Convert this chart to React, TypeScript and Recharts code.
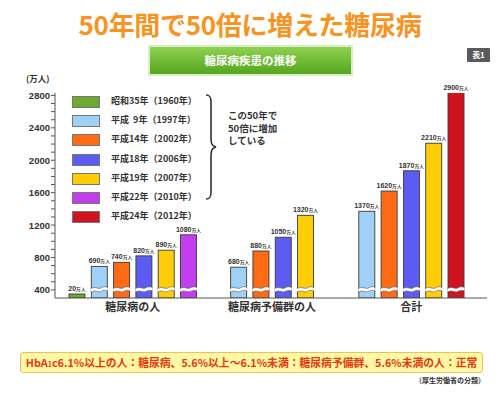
import React from 'react';
import { BarChart, Bar, XAxis, YAxis, Cell, LabelList } from 'recharts';

// ---- data ----
const categories = ['糖尿病の人', '糖尿病予備群の人', '合計'];
const years = [
  '昭和35年（1960年）',
  '平成  9年（1997年）',
  '平成14年（2002年）',
  '平成18年（2006年）',
  '平成19年（2007年）',
  '平成22年（2010年）',
  '平成24年（2012年）',
];
const diabetes = [20, 690, 740, 820, 890, 1080, null];
const prediabetes = [null, 680, 880, 1050, 1320, null, null];
const total = [null, 1370, 1620, 1870, 2210, null, 2900];
const yTickValues = [400, 500, 600, 700, 800, 900, 1000, 1100, 1200, 1300, 1400, 1500, 1600, 1700, 1800, 1900, 2000, 2100, 2200, 2300, 2400, 2500, 2600, 2700, 2800];
const yLabelTicks = [400, 800, 1200, 1600, 2000, 2400, 2800];
const braceNote = ['この50年で', '50倍に増加', 'している'];

const colors = ['#6cab2f', '#9fd0f6', '#ff6a14', '#5c5cf2', '#ffcd05', '#c23ff0', '#d0141f'];
const seriesByCategory = [diabetes, prediabetes, total];

// axis break: values below 400 are compressed into the bottom strip
const AXIS_MIN = 300;
const brk = (v: number) => (v >= 400 ? v : AXIS_MIN + (v * 100) / 400);

const SLOTS = 11;
const rows = categories.map((name, ci) => {
  const row: any = { name };
  const vals = seriesByCategory[ci];
  const present = vals.map((v, i) => (v == null ? -1 : i)).filter((i) => i >= 0);
  const start = (SLOTS - 1) / 2 - (present.length - 1);
  present.forEach((yi, k) => {
    const s = start + 2 * k;
    row[`v${s}`] = brk(vals[yi] as number);
    row[`r${s}`] = vals[yi];
    row[`c${s}`] = yi;
  });
  return row;
});

const JP = "'Noto Sans CJK JP', 'Noto Sans', sans-serif";
const LAT = "'Liberation Sans', Arial, sans-serif";
const PLOT_TOP = 93;

const BrokenBar = (props: any) => {
  const { x, y, width, height, fill } = props;
  if (fill == null || fill === 'none' || height == null || isNaN(height) || height <= 0) return null;
  const h = Math.max(height, 4);
  const top = y + height - h;
  const yb = y + height;
  const els: any[] = [
    <rect key="r" x={x} y={top} width={width} height={h} fill={fill} stroke="#3a3a3a" strokeWidth={0.9} />,
  ];
  if (h > 16) {
    const t = yb - 10.5;
    const b = yb - 7;
    const w = width;
    const topEdge = `M${x - 0.5},${t + 1} C${x + w * 0.25},${t - 1.5} ${x + w * 0.45},${t + 2} ${x + w * 0.6},${t + 0.5} S${x + w * 0.85},${t - 1.2} ${x + w + 0.5},${t}`;
    const botEdge = `M${x - 0.5},${b + 1} C${x + w * 0.25},${b - 1.5} ${x + w * 0.45},${b + 2} ${x + w * 0.6},${b + 0.5} S${x + w * 0.85},${b - 1.2} ${x + w + 0.5},${b}`;
    const band = `${topEdge} L${x + w + 0.5},${b} C${x + w * 0.85},${b - 1.2} ${x + w * 0.75},${b} ${x + w * 0.6},${b + 0.5} C${x + w * 0.45},${b + 2} ${x + w * 0.25},${b - 1.5} ${x - 0.5},${b + 1} Z`;
    els.push(<path key="b" d={band} fill="#ffffff" stroke="none" />);
    els.push(<path key="t" d={topEdge} fill="none" stroke="#555" strokeWidth={0.6} />);
    els.push(<path key="u" d={botEdge} fill="none" stroke="#555" strokeWidth={0.6} />);
  }
  return <g>{els}</g>;
};

const BarLabel = (p: any) => {
  const { x, y, width, height, value } = p;
  if (value == null || x == null) return null;
  let topY = height < 4 ? y + height - 4 : y;
  topY = Math.max(topY, PLOT_TOP);
  return (
    <text x={x + width / 2} y={topY - 3} textAnchor="middle" fill="#333" fontFamily={LAT} fontWeight="bold">
      <tspan fontSize={7}>{value}</tspan>
      <tspan fontSize={4.8} fontFamily={JP}>万人</tspan>
    </text>
  );
};

const YTick = (p: any) => {
  const { x, y, payload } = p;
  if (!yLabelTicks.includes(payload.value)) return null;
  return (
    <text x={x} y={y} dy={3.5} textAnchor="end" fontSize={9.5} fontFamily={LAT} fontWeight="bold" fill="#333">
      {payload.value}
    </text>
  );
};

export default function App() {
  const slots = Array.from({ length: SLOTS }, (_, i) => i);
  return (
    <div style={{ position: 'absolute', left: 0, top: 0, width: 500, height: 393, background: '#fff', overflow: 'hidden', fontFamily: JP }}>
      {/* title */}
      <div style={{ position: 'absolute', left: 0, top: 6, width: 500, textAlign: 'center', fontSize: 26, fontWeight: 'bold', color: '#f7931e', lineHeight: '36px', letterSpacing: -0.3 }}>
        50年間で50倍に増えた糖尿病
      </div>
      {/* header box */}
      <div style={{ position: 'absolute', left: 148, top: 45, width: 201, height: 27, border: '2px solid #d9edc4', background: 'linear-gradient(#8fd24f, #55a51f)', color: '#fff', fontWeight: 'bold', fontSize: 11.5, textAlign: 'center', lineHeight: '27px' }}>
        糖尿病疾患の推移
      </div>
      {/* badge */}
      <div style={{ position: 'absolute', left: 467, top: 48, width: 23, height: 14, background: '#5a5a5a', color: '#fff', fontSize: 8, fontWeight: 'bold', textAlign: 'center', lineHeight: '14px', borderRadius: 1 }}>
        表1
      </div>
      {/* unit */}
      <div style={{ position: 'absolute', left: 26, top: 72, fontSize: 8.5, fontWeight: 'bold', color: '#333', lineHeight: '12px' }}>(万人)</div>

      <BarChart
        width={500}
        height={393}
        data={rows}
        margin={{ top: PLOT_TOP, right: 13, bottom: 65, left: 0 }}
        barGap={-4.85}
        barSize={16}
        style={{ position: 'absolute', left: 0, top: 0 }}
      >
        <XAxis
          dataKey="name"
          tickLine={false}
          tickSize={0}
          tickMargin={5}
          padding={{ left: 8, right: 6 }}
          axisLine={{ stroke: '#555', strokeWidth: 1 }}
          tick={{ fontSize: 11, fill: '#333', fontFamily: JP, fontWeight: 'bold' }}
          interval={0}
        />
        <YAxis
          type="number"
          width={55}
          domain={[AXIS_MIN, 2830]}
          allowDataOverflow
          ticks={yTickValues}
          interval={0}
          tickSize={4}
          tickMargin={1}
          tickLine={{ stroke: '#555' }}
          axisLine={{ stroke: '#555', strokeWidth: 1 }}
          tick={<YTick />}
        />
        {slots.map((s) => (
          <Bar key={s} dataKey={`v${s}`} isAnimationActive={false} shape={<BrokenBar />}>
            {rows.map((r, i) => (
              <Cell key={i} fill={r[`c${s}`] != null ? colors[r[`c${s}`]] : 'none'} />
            ))}
            <LabelList dataKey={`r${s}`} content={<BarLabel />} />
          </Bar>
        ))}
      </BarChart>

      {/* legend */}
      <div style={{ position: 'absolute', left: 72, top: 96 }}>
        {years.map((y, i) => (
          <div key={i} style={{ position: 'absolute', left: 0, top: i * 19.2, width: 200, height: 12 }}>
            <div style={{ position: 'absolute', left: 0, top: 0, width: 26, height: 10, background: colors[i], border: '1px solid #777' }} />
            <div style={{ position: 'absolute', left: 39, top: -1, fontSize: 9, fontWeight: 'bold', color: '#333', whiteSpace: 'pre', lineHeight: '12px' }}>{y}</div>
          </div>
        ))}
      </div>
      {/* brace */}
      <svg style={{ position: 'absolute', left: 200, top: 90 }} width={24} height={115}>
        <path d="M6,5 C10,5 11,7 11,12 L11,48 C11,54 12,56 16,57 C12,58 11,60 11,66 L11,102 C11,107 10,109 6,109" fill="none" stroke="#333" strokeWidth={1.6} />
      </svg>
      {braceNote.map((t, i) => (
        <div key={i} style={{ position: 'absolute', left: 228, top: 109 + i * 12.5, height: 12, fontSize: 9.5, fontWeight: 'bold', color: '#333', lineHeight: '12px', whiteSpace: 'nowrap' }}>
          {t}
        </div>
      ))}

      {/* note box */}
      <div style={{ position: 'absolute', left: 20, top: 352, width: 461, height: 19, background: '#fff8a6', border: '1px solid #f0c253', borderRadius: 3, color: '#e8380d', fontWeight: 'bold', fontSize: 10.8, textAlign: 'center', lineHeight: '19px', whiteSpace: 'nowrap' }}>
        HbA<span style={{ fontSize: 7 }}>1</span>c6.1%以上の人：糖尿病、5.6%以上～6.1%未満：糖尿病予備群、5.6%未満の人：正常
      </div>
      <div style={{ position: 'absolute', right: 15, top: 375, fontSize: 7, fontWeight: 'bold', color: '#333', lineHeight: '10px' }}>
        （厚生労働省の分類）
      </div>
    </div>
  );
}
